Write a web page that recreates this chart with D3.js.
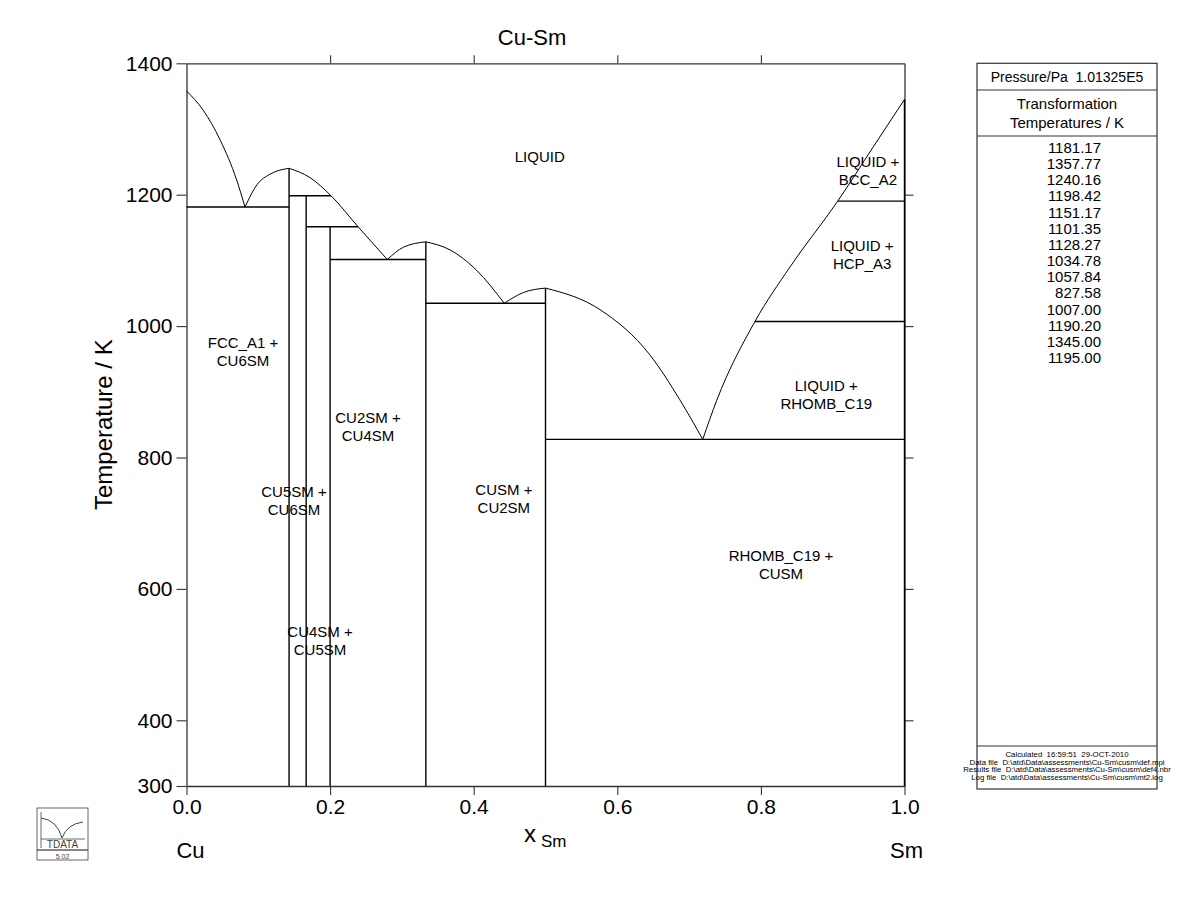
<!DOCTYPE html>
<html>
<head>
<meta charset="utf-8">
<script src="https://cdn.jsdelivr.net/npm/d3@7"></script>
<style>
  body { margin: 0; background: #fff; }
  svg { font-family: "Liberation Sans", Arial, sans-serif; }
</style>
</head>
<body>
<div id="chart"></div>
<script>
// liquidus segments, [x_Sm, T/K]
var liqCuFcc   = [[0, 1357.77], [0.023, 1329], [0.047, 1283], [0.070, 1222], [0.0815, 1181.17]];
var liqCu6Left = [[0.0815, 1181.17], [0.098, 1215], [0.116, 1231], [0.1429, 1240.16]];
var liqCu6Right = [[0.1429, 1240.16], [0.172, 1226], [0.2013, 1198.42], [0.239, 1151.17], [0.2797, 1101.35]];
var liqCu2Left = [[0.2797, 1101.35], [0.302, 1120], [0.3333, 1128.27]];
var liqCu2Right = [[0.3333, 1128.27], [0.367, 1116], [0.404, 1085], [0.4426, 1034.78]];
var liqCuSmLeft = [[0.4426, 1034.78], [0.469, 1051], [0.5, 1057.84]];
var liqCuSmRight = [[0.5, 1057.84], [0.576, 1025], [0.6455, 956], [0.687, 888], [0.719, 827.58]];
var liqSm = [[0.719, 827.58], [0.7385, 887], [0.7917, 1007], [0.8405, 1090], [0.907, 1190.2], [0.9566, 1273], [1, 1345]];

// invariant reactions: temperature and x range
var invariants = [
  {t: 1181.17, x0: 0, x1: 0.1429},
  {t: 1198.42, x0: 0.1429, x1: 0.2013},
  {t: 1151.17, x0: 0.1667, x1: 0.239},
  {t: 1101.35, x0: 0.2, x1: 0.3333},
  {t: 1034.78, x0: 0.3333, x1: 0.5},
  {t: 827.58, x0: 0.5, x1: 1},
  {t: 1007.00, x0: 0.7917, x1: 1},
  {t: 1190.20, x0: 0.907, x1: 1}
];

// stoichiometric compounds: composition and top temperature
var compounds = [
  {x: 1/7, t: 1240.16},
  {x: 1/6, t: 1198.42},
  {x: 0.2, t: 1151.17},
  {x: 1/3, t: 1128.27},
  {x: 0.5, t: 1057.84},
  {x: 1, t: 1345}
];

var fieldLabels = [
  {text: ["LIQUID"], x: 0.492, t: 1257},
  {text: ["LIQUID +", "BCC_A2"], x: 0.949, t: 1236},
  {text: ["LIQUID +", "HCP_A3"], x: 0.941, t: 1108},
  {text: ["LIQUID +", "RHOMB_C19"], x: 0.891, t: 895},
  {text: ["FCC_A1 +", "CU6SM"], x: 0.0787, t: 961},
  {text: ["CU2SM +", "CU4SM"], x: 0.2528, t: 846},
  {text: ["CU5SM +", "CU6SM"], x: 0.1497, t: 734},
  {text: ["CUSM +", "CU2SM"], x: 0.442, t: 737},
  {text: ["RHOMB_C19 +", "CUSM"], x: 0.828, t: 636},
  {text: ["CU4SM +", "CU5SM"], x: 0.186, t: 521}
];

var xTicks = [0, 0.2, 0.4, 0.6, 0.8, 1.0];
var yTicks = [300, 400, 600, 800, 1000, 1200, 1400];

var transTemps = ["1181.17", "1357.77", "1240.16", "1198.42", "1151.17", "1101.35", "1128.27",
                  "1034.78", "1057.84", "827.58", "1007.00", "1190.20", "1345.00", "1195.00"];
var footer = ["Calculated  16:59:51  29-OCT-2010",
              "Data file  D:\\atd\\Data\\assessments\\Cu-Sm\\cusm\\def.mpi",
              "Results file  D:\\atd\\Data\\assessments\\Cu-Sm\\cusm\\def4.nbr",
              "Log file  D:\\atd\\Data\\assessments\\Cu-Sm\\cusm\\mt2.log"];

var width = 1200, height = 923;
var svg = d3.select("#chart").append("svg")
    .attr("width", width)
    .attr("height", height);

var x = d3.scaleLinear().domain([0, 1]).range([186.5, 904.5]);
var y = d3.scaleLinear().domain([300, 1400]).range([786, 63.3]);

// axes
function styleAxis(g) {
  g.select(".domain").attr("stroke", "#333").attr("stroke-width", 1.3);
  g.selectAll(".tick line").attr("stroke", "#333").attr("stroke-width", 1.1);
  g.selectAll(".tick text").attr("font-size", 21).attr("fill", "#000")
   .attr("font-family", "Liberation Sans, Arial, sans-serif");
}

svg.append("g")
  .attr("transform", "translate(0," + y(300) + ")")
  .call(d3.axisBottom(x).tickValues(xTicks).tickFormat(d3.format(".1f")).tickSize(9).tickPadding(4).tickSizeOuter(0))
  .call(styleAxis);

svg.append("g")
  .attr("transform", "translate(0," + y(1400) + ")")
  .call(d3.axisTop(x).tickValues([0.2, 0.4, 0.6, 0.8]).tickFormat("").tickSize(8).tickSizeOuter(0))
  .call(styleAxis);

svg.append("g")
  .attr("transform", "translate(" + x(0) + ",0)")
  .call(d3.axisLeft(y).tickValues(yTicks).tickFormat(d3.format("d")).tickSize(10).tickPadding(4).tickSizeOuter(0))
  .call(styleAxis);

svg.append("g")
  .attr("transform", "translate(" + x(1) + ",0)")
  .call(d3.axisRight(y).tickValues([400, 600, 800, 1000, 1200]).tickFormat("").tickSize(9).tickSizeOuter(0))
  .call(styleAxis);

// phase boundaries
var plot = svg.append("g");

var line = d3.line()
    .x(d => x(d[0]))
    .y(d => y(d[1]))
    .curve(d3.curveMonotoneX);

[liqCuFcc, liqCu6Left, liqCu6Right, liqCu2Left, liqCu2Right, liqCuSmLeft, liqCuSmRight, liqSm]
  .forEach(function (seg) {
    plot.append("path")
      .attr("d", line(seg))
      .attr("fill", "none")
      .attr("stroke", "#000")
      .attr("stroke-width", 1);
  });

plot.selectAll("line.inv")
  .data(invariants)
  .enter().append("line")
  .attr("class", "inv")
  .attr("x1", d => x(d.x0))
  .attr("x2", d => x(d.x1))
  .attr("y1", d => y(d.t))
  .attr("y2", d => y(d.t))
  .attr("stroke", "#000")
  .attr("stroke-width", 1.4);

plot.selectAll("line.cmp")
  .data(compounds)
  .enter().append("line")
  .attr("class", "cmp")
  .attr("x1", d => x(d.x))
  .attr("x2", d => x(d.x))
  .attr("y1", d => y(d.t))
  .attr("y2", y(300))
  .attr("stroke", "#000")
  .attr("stroke-width", 1.4);

// field labels
var lab = plot.selectAll("text.field")
  .data(fieldLabels)
  .enter().append("text")
  .attr("class", "field")
  .attr("text-anchor", "middle")
  .attr("font-size", 15)
  .attr("fill", "#000");

lab.each(function (d) {
  var n = d.text.length;
  var t = d3.select(this);
  d.text.forEach(function (s, i) {
    t.append("tspan")
      .attr("x", x(d.x))
      .attr("y", y(d.t) + (i - (n - 1) / 2) * 18 + 5)
      .text(s);
  });
});

// titles
svg.append("text")
  .attr("x", 532).attr("y", 45)
  .attr("text-anchor", "middle")
  .attr("font-size", 22)
  .text("Cu-Sm");

svg.append("text")
  .attr("transform", "translate(112," + ((y(300) + y(1400)) / 2) + ") rotate(-90)")
  .attr("text-anchor", "middle")
  .attr("font-size", 24)
  .text("Temperature / K");

var xl = svg.append("text")
  .attr("x", 524).attr("y", 842)
  .attr("font-size", 24);
xl.append("tspan").text("x");
xl.append("tspan").attr("dx", 5).attr("dy", 5).attr("font-size", 17).text("Sm");

svg.append("text")
  .attr("x", x(0) + 4).attr("y", 858)
  .attr("text-anchor", "middle")
  .attr("font-size", 22)
  .text("Cu");

svg.append("text")
  .attr("x", x(1) + 2).attr("y", 858)
  .attr("text-anchor", "middle")
  .attr("font-size", 22)
  .text("Sm");

// side table
var bx0 = 977, bx1 = 1157, by0 = 63.3, by1 = 789;
var cx = (bx0 + bx1) / 2;
var box = svg.append("g");
box.append("rect")
  .attr("x", bx0).attr("y", by0)
  .attr("width", bx1 - bx0).attr("height", by1 - by0)
  .attr("fill", "none").attr("stroke", "#333").attr("stroke-width", 1.2);
[90, 136, 746].forEach(function (yy) {
  box.append("line")
    .attr("x1", bx0).attr("x2", bx1)
    .attr("y1", yy).attr("y2", yy)
    .attr("stroke", "#333").attr("stroke-width", 1.2);
});

box.append("text")
  .attr("x", cx).attr("y", 82)
  .attr("text-anchor", "middle")
  .attr("font-size", 14)
  .attr("xml:space", "preserve")
  .text("Pressure/Pa  1.01325E5");

box.append("text").attr("x", cx).attr("y", 109)
  .attr("text-anchor", "middle").attr("font-size", 15).text("Transformation");
box.append("text").attr("x", cx).attr("y", 128)
  .attr("text-anchor", "middle").attr("font-size", 15).text("Temperatures / K");

box.selectAll("text.tt")
  .data(transTemps)
  .enter().append("text")
  .attr("class", "tt")
  .attr("x", 1101)
  .attr("y", (d, i) => 153 + i * 16.15)
  .attr("text-anchor", "end")
  .attr("font-size", 15)
  .text(d => d);

box.selectAll("text.ft")
  .data(footer)
  .enter().append("text")
  .attr("class", "ft")
  .attr("x", cx)
  .attr("y", (d, i) => 757 + i * 7.7)
  .attr("text-anchor", "middle")
  .attr("font-size", 7.8)
  .attr("fill", "#000")
  .attr("xml:space", "preserve")
  .text(d => d);

// logo
var logo = svg.append("g").attr("transform", "translate(37,808)");
logo.append("rect").attr("width", 51).attr("height", 42)
  .attr("fill", "none").attr("stroke", "#444").attr("stroke-width", 0.8);
logo.append("rect").attr("y", 42).attr("width", 51).attr("height", 10)
  .attr("fill", "none").attr("stroke", "#444").attr("stroke-width", 0.8);
logo.append("path")
  .attr("d", "M4,10 Q20,12 25,30 Q30,16 46,14")
  .attr("fill", "none").attr("stroke", "#444").attr("stroke-width", 1);
logo.append("line").attr("x1", 4).attr("x2", 4).attr("y1", 4).attr("y2", 40)
  .attr("stroke", "#444").attr("stroke-width", 0.8);
logo.append("line").attr("x1", 4).attr("x2", 48).attr("y1", 31).attr("y2", 31)
  .attr("stroke", "#444").attr("stroke-width", 0.8);
logo.append("text").attr("x", 25.5).attr("y", 40)
  .attr("text-anchor", "middle").attr("font-size", 10).attr("fill", "#444")
  .text("TDATA");
logo.append("text").attr("x", 25.5).attr("y", 50.5)
  .attr("text-anchor", "middle").attr("font-size", 7).attr("fill", "#444")
  .text("5.02");
</script>
</body>
</html>
